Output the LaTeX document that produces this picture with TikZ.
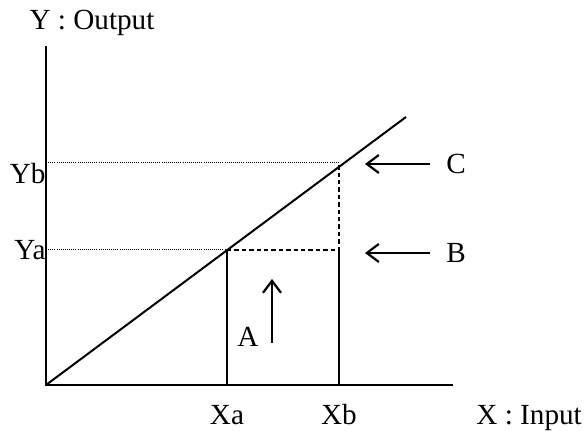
\documentclass[tikz,border=0pt]{standalone}
\usepackage{fontspec}
\setmainfont{Liberation Serif}
\usetikzlibrary{arrows.meta,positioning}
\tikzset{lbl/.style={inner sep=0pt,font=\fontsize{14.6}{17}\selectfont},
  pointer/.style={-{Straight Barb[length=6pt,width=9pt]},line width=1.1pt},
  guide/.style={line width=.5pt,dash pattern=on .5pt off .55pt},
  drop/.style={line width=1pt,dash pattern=on 2.2pt off 1.5pt}}

\begin{document}
\begin{tikzpicture}[x=0.5pt,y=0.5pt]
\useasboundingbox (-46,-46) rectangle (542,385);
\coordinate (O) at (0,0);
\coordinate (Ytop) at (0,339);
\coordinate (Xend) at (407,0);
\coordinate (Lend) at (360,268);
\coordinate (Pa) at (181,135);
\coordinate (Pb) at (293,222);
\coordinate (Xa) at (Pa|-O); \coordinate (Xb) at (Pb|-O);
\coordinate (Ya) at (Pa-|O); \coordinate (Yb) at (Pb-|O);
\coordinate (Pc) at (Pa-|Pb);
% axes and input-output line
\draw[line width=1.2pt] (Ytop)--(O)--(Xend);
\draw[line width=1pt] (O)--(Lend);
\draw[guide] (Yb)--(Pb) (Ya)--(Pa);
\draw[drop] (Pa)--(Pc)--(Pb);
\draw[line width=1pt] (Pa)--(Xa) (Pc)--(Xb);
% labels
\node[lbl] (yout) at (46,362) {Y : Output};
\node[lbl,anchor=north east] (yb) at (Yb) {Yb};
\node[lbl,anchor=east] (ya) at (Ya) {Ya};
\node[lbl,anchor=base west] (xin) at (430,-40) {X : Input};
\node[lbl,anchor=base] (xa) at (Xa|-xin.base) {Xa};
\node[lbl,anchor=base] (xb) at (Xb|-xin.base) {Xb};
\node[lbl] (a) at (202,48) {A};
\node[lbl,anchor=west] (b) at (400,132) {B};
\node[lbl,anchor=west] (c) at (400,221) {C};
\coordinate (a0) at (226,42); \coordinate (a1) at (226,106);
\draw[pointer] (a0)--(a1);
\foreach \n in {b,c}{\draw[pointer] ([xshift=-8pt]\n.west)--++(-65,0);}
\end{tikzpicture}
\end{document}
